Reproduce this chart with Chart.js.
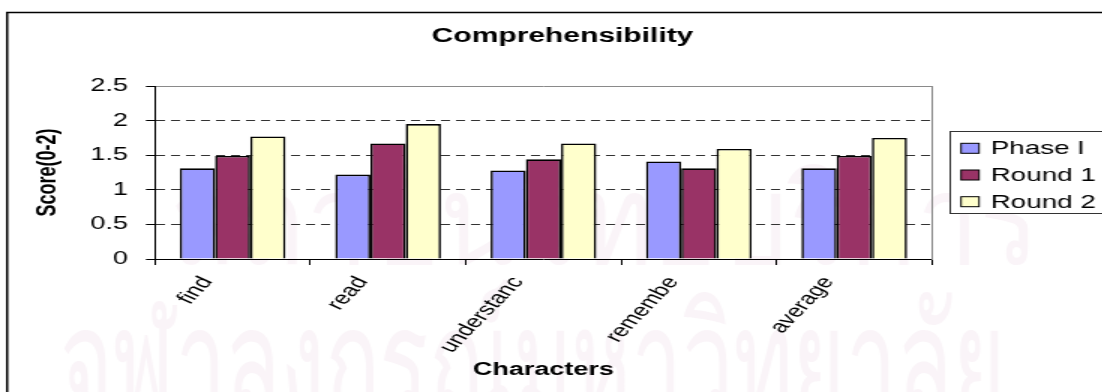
<!DOCTYPE html>
<html>
<head>
<meta charset="utf-8">
<script src="https://cdn.jsdelivr.net/npm/chart.js@4.4.1/dist/chart.umd.min.js"></script>
<style>
  html, body { margin: 0; padding: 0; background: #fff; overflow: hidden; width: 1102px; height: 392px; }
  /* the chart is laid out narrow and stretched sideways, as in the printed figure */
  #wrap { position: absolute; left: 0; top: 0; width: 750px; height: 400px; transform: scaleX(1.5); transform-origin: 0 0; }
</style>
</head>
<body>
<div id="wrap"><canvas id="c" width="750" height="400"></canvas></div>
<script>
const categories = ['find', 'read', 'understanc', 'remembe', 'average'];
const phaseI = [1.31, 1.22, 1.28, 1.41, 1.31];
const round1 = [1.49, 1.67, 1.44, 1.31, 1.49];
const round2 = [1.77, 1.95, 1.67, 1.59, 1.75];
const seriesNames = ['Phase I', 'Round 1', 'Round 2'];
const seriesColors = ['#9999FF', '#993366', '#FFFFCC'];
const yTickLabels = ['0', '0.5', '1', '1.5', '2', '2.5'];

const FONT = "'Liberation Sans', Arial, Helvetica, sans-serif";

// white page, faint background lettering and the outer frame
const framePlugin = {
  id: 'frame',
  beforeDraw(chart) {
    const ctx = chart.ctx;
    ctx.save();
    ctx.fillStyle = '#fff';
    ctx.fillRect(0, 0, chart.width, chart.height);
    ctx.fillStyle = 'rgba(190, 110, 165, 0.08)';
    ctx.textBaseline = 'alphabetic';
    ctx.textAlign = 'left';
    ctx.font = "125px 'Noto Sans', 'DejaVu Sans', sans-serif";
    ctx.fillText('สถาบันวิทยบริการ', 113, 264, 580);
    ctx.font = "160px 'Noto Sans', 'DejaVu Sans', sans-serif";
    ctx.fillText('จุฬาลงกรณ์มหาวิทยาลัย', 40, 420, 630);
    ctx.strokeStyle = '#000';
    ctx.lineWidth = 1.5;
    ctx.strokeRect(4.75, 12.5, 740, 400);
    ctx.restore();
  }
};

// boxed legend to the right of the plot
const boxLegend = {
  id: 'boxLegend',
  afterDraw(chart) {
    const ctx = chart.ctx;
    const x0 = 633.5, y0 = 131.5, w = 107, h = 82;
    ctx.save();
    ctx.fillStyle = '#fff';
    ctx.fillRect(x0, y0, w, h);
    ctx.strokeStyle = '#333';
    ctx.lineWidth = 1;
    ctx.strokeRect(x0, y0, w, h);
    ctx.font = '18.5px ' + FONT;
    ctx.textBaseline = 'middle';
    ctx.textAlign = 'left';
    chart.data.datasets.forEach((ds, i) => {
      const cy = 148.3 + i * 26.7;
      ctx.fillStyle = ds.backgroundColor;
      ctx.fillRect(640.7, cy - 5, 12, 10);
      ctx.strokeStyle = '#000';
      ctx.strokeRect(640.7, cy - 5, 12, 10);
      ctx.fillStyle = '#000';
      ctx.fillText(ds.label, 660.5, cy + 1);
    });
    ctx.restore();
  }
};

const seriesData = [phaseI, round1, round2];

new Chart(document.getElementById('c'), {
  type: 'bar',
  data: {
    labels: categories,
    datasets: seriesData.map((d, i) => ({
      label: seriesNames[i],
      data: d,
      backgroundColor: seriesColors[i],
      borderColor: '#000',
      borderWidth: 1.6,
      categoryPercentage: 0.68,
      barPercentage: 1.0
    }))
  },
  options: {
    responsive: false,
    animation: false,
    devicePixelRatio: 1,
    layout: { padding: { left: 10, right: 10, top: 14, bottom: 4 } },
    plugins: {
      legend: { display: false },
      tooltip: { enabled: false },
      title: {
        display: true,
        text: 'Comprehensibility',
        color: '#000',
        font: { family: FONT, size: 20, weight: 'bold' },
        padding: { top: 10, bottom: 38 }
      }
    },
    scales: {
      x: {
        grid: { display: true, drawOnChartArea: false, drawTicks: true, tickLength: 6, tickColor: '#000', offset: true },
        border: { display: true, color: '#000', width: 1 },
        ticks: {
          autoSkip: false, minRotation: 56.3, maxRotation: 56.3,
          color: '#000', font: { family: FONT, size: 17.5 }, padding: 8, labelOffset: -17
        },
        title: {
          display: true, text: 'Characters', color: '#000',
          font: { family: FONT, size: 18, weight: 'bold' },
          padding: { top: 0, bottom: 15 }
        },
        afterFit: s => { s.height = 137; }
      },
      y: {
        min: 0, max: 2.5,
        ticks: {
          stepSize: 0.5, color: '#000', font: { family: FONT, size: 18 }, padding: 12,
          callback: (v, i) => yTickLabels[i]
        },
        grid: {
          color: c => (c.tick && c.tick.value === 2.5) ? '#8a8a8a' : '#333',
          lineWidth: 1, tickLength: 6, tickColor: '#000', tickBorderDash: []
        },
        border: {
          display: true, color: '#000', width: 1,
          dash: c => (c.type === 'tick' && c.tick && c.tick.value !== 2.5) ? [6, 4] : []
        },
        title: {
          display: true, text: 'Score(0-2)', color: '#000',
          font: { family: FONT, size: 18, weight: 'bold' },
          padding: { top: 11.7, bottom: 0 }
        },
        afterFit: s => { s.width = 93.3; }
      },
      edge: {
        type: 'linear', position: 'right', display: true,
        ticks: { display: false },
        grid: { drawOnChartArea: false, drawTicks: false },
        border: { display: true, color: '#8a8a8a', width: 1 },
        afterFit: s => { s.width = 118.7; }
      }
    }
  },
  plugins: [framePlugin, boxLegend]
});
</script>
</body>
</html>
